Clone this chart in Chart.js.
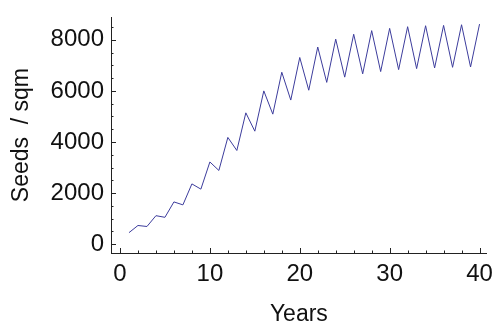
<!DOCTYPE html>
<html>
<head>
<meta charset="utf-8">
<script src="https://cdn.jsdelivr.net/npm/chart.js@4/dist/chart.umd.min.js"></script>
<style>
html,body{margin:0;padding:0;background:#fff;}
#wrap{width:504px;height:324px;position:relative;}
</style>
</head>
<body>
<div id="wrap"><canvas id="c" width="504" height="324"></canvas></div>
<script>
const years = [1,2,3,4,5,6,7,8,9,10,11,12,13,14,15,16,17,18,19,20,21,22,23,24,25,26,27,28,29,30,31,32,33,34,35,36,37,38,39,40];
const seeds = [450,731,692,1115,1051,1654,1538,2359,2154,3218,2885,4179,3667,5141,4423,6000,5090,6731,5641,7308,6026,7718,6333,8026,6538,8218,6667,8359,6756,8448,6833,8513,6872,8551,6897,8564,6923,8590,6935,8615];
const xMajorTicks = [0,10,20,30,40];
const yMajorTicks = [0,2000,4000,6000,8000];
const xMinorTicks = [2,4,6,8,12,14,16,18,22,24,26,28,32,34,36,38];
const yMinorTicks = [500,1000,1500,2500,3000,3500,4500,5000,5500,6500,7000,7500,8500];

const FONT = "'Liberation Sans Narrow', 'Liberation Sans', Arial, sans-serif";
const AXIS_COLOR = '#222';

const tickPlugin = {
  id: 'inwardTicks',
  afterDatasetsDraw(chart) {
    const ctx = chart.ctx;
    const xs = chart.scales.x, ys = chart.scales.y;
    const left = chart.chartArea.left, bottom = chart.chartArea.bottom;
    ctx.save();
    ctx.strokeStyle = AXIS_COLOR;
    ctx.lineWidth = 1;
    ctx.beginPath();
    xMajorTicks.forEach(v => { const p = Math.round(xs.getPixelForValue(v)) + 0.5; ctx.moveTo(p, bottom); ctx.lineTo(p, bottom - 5); });
    xMinorTicks.forEach(v => { const p = Math.round(xs.getPixelForValue(v)) + 0.5; ctx.moveTo(p, bottom); ctx.lineTo(p, bottom - 2.5); });
    yMajorTicks.forEach(v => { const p = Math.round(ys.getPixelForValue(v)) + 0.5; ctx.moveTo(left, p); ctx.lineTo(left + 5, p); });
    yMinorTicks.forEach(v => { const p = Math.round(ys.getPixelForValue(v)) + 0.5; ctx.moveTo(left, p); ctx.lineTo(left + 2.5, p); });
    ctx.stroke();
    ctx.restore();
  }
};

new Chart(document.getElementById('c'), {
  type: 'line',
  data: {
    datasets: [{
      data: years.map((x, i) => ({x: x, y: seeds[i]})),
      borderColor: '#3c3c9c',
      borderWidth: 1,
      pointRadius: 0,
      tension: 0,
      fill: false
    }]
  },
  options: {
    responsive: false,
    animation: false,
    devicePixelRatio: 1,
    layout: { padding: { top: 13, right: 6, left: 0, bottom: 0 } },
    plugins: { legend: { display: false }, tooltip: { enabled: false } },
    scales: {
      x: {
        type: 'linear',
        min: -1,
        max: 40.8,
        afterBuildTicks: s => { s.ticks = xMajorTicks.map(v => ({value: v})); },
        afterFit: s => { s.height = 71; },
        grid: { display: false, drawTicks: false },
        border: { display: true, color: AXIS_COLOR, width: 1 },
        ticks: { color: '#111', padding: 11, maxRotation: 0, autoSkip: false, callback: v => String(v), font: { family: FONT, size: 24, lineHeight: 0.85 } },
        title: { display: true, text: 'Years', color: '#111', padding: { top: 0, bottom: -2 }, font: { family: FONT, size: 23, lineHeight: 0.95 } }
      },
      y: {
        type: 'linear',
        min: -346,
        max: 8885,
        afterBuildTicks: s => { s.ticks = yMajorTicks.map(v => ({value: v})); },
        afterFit: s => { s.width = 111; },
        grid: { display: false, drawTicks: false },
        border: { display: true, color: AXIS_COLOR, width: 1 },
        ticks: { color: '#111', padding: 7, autoSkip: false, callback: v => String(v), font: { family: FONT, size: 24, lineHeight: 0.85 } },
        title: { display: true, text: 'Seeds  / sqm', color: '#111', padding: { top: 11, bottom: 0 }, font: { family: FONT, size: 23, lineHeight: 0.95 } }
      }
    }
  },
  plugins: [tickPlugin]
});
</script>
</body>
</html>
